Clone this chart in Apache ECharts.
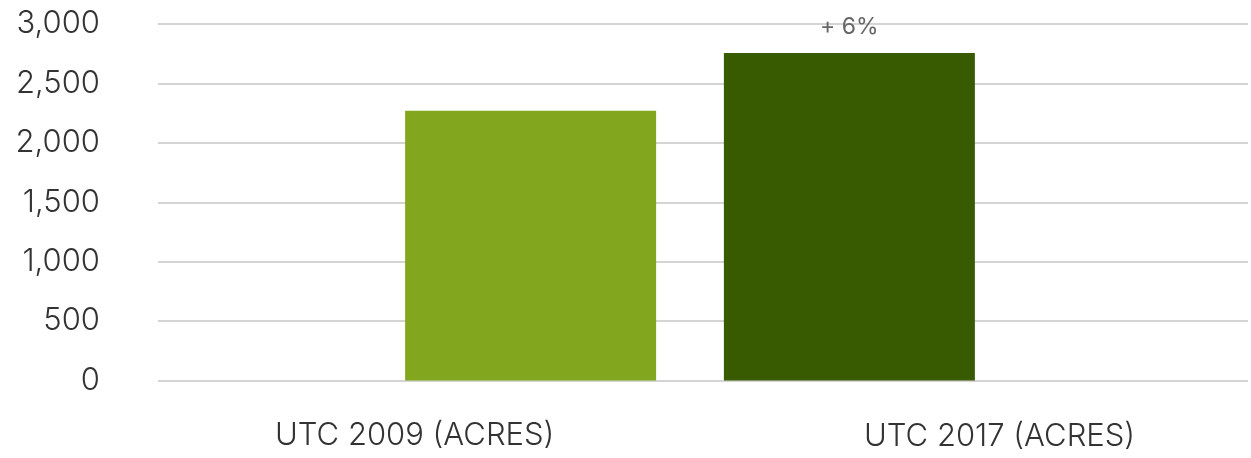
<!DOCTYPE html>
<html>
<head>
<meta charset="utf-8">
<script src="https://cdn.jsdelivr.net/npm/echarts@6/dist/echarts.min.js"></script>
<style>
html,body{margin:0;padding:0;background:#fff;}
#c{width:1251px;height:458px;}
</style>
</head>
<body>
<div id="c"></div>
<script>
const categories = [''];
const seriesNames = ['UTC 2009 (ACRES)', 'UTC 2017 (ACRES)'];
const values2009 = [2270];
const values2017 = [2757];
const changeLabel = '+ 6%';
const yTicks = [0, 500, 1000, 1500, 2000, 2500, 3000];

const FONT = 'Inter, "Open Sans", sans-serif';
const yMin = yTicks[0], yMax = yTicks[yTicks.length - 1], yStep = yTicks[1] - yTicks[0];
const chart = echarts.init(document.getElementById('c'));
chart.setOption({
  animation: false,
  backgroundColor: '#fff',
  grid: [
    { left: 158, right: 29, top: 24, bottom: 77.5 },
    { left: 158, right: 3, top: 24, bottom: 77.5 }
  ],
  legend: [
    { data: [seriesNames[0]], left: 270, top: 420, padding: 0, itemWidth: 0, itemHeight: 0, icon: 'rect', selectedMode: false,
      textStyle: { fontFamily: FONT, fontWeight: 300, fontSize: 31, color: '#333' } },
    { data: [seriesNames[1]], left: 859, top: 421, padding: 0, itemWidth: 0, itemHeight: 0, icon: 'rect', selectedMode: false,
      textStyle: { fontFamily: FONT, fontWeight: 300, fontSize: 31, color: '#333' } }
  ],
  xAxis: [
    { gridIndex: 0, type: 'category', data: categories,
      axisLine: { show: false }, axisTick: { show: false }, axisLabel: { show: false } },
    { gridIndex: 1, type: 'category', data: categories, show: false }
  ],
  yAxis: [
    { gridIndex: 0, type: 'value', min: yMin, max: yMax, interval: yStep,
      axisLine: { show: false }, axisTick: { show: false }, splitLine: { show: false },
      axisLabel: {
        margin: 58, fontFamily: FONT, fontWeight: 300, fontSize: 31, color: '#333',
        formatter: v => v.toLocaleString('en-US')
      } },
    { gridIndex: 1, type: 'value', min: yMin, max: yMax, interval: yStep, z: 0,
      axisLine: { show: false }, axisTick: { show: false }, axisLabel: { show: false },
      splitLine: { lineStyle: { color: '#d4d4d4', width: 2 } } }
  ],
  series: [
    { name: seriesNames[0], type: 'bar', data: values2009, barWidth: 251, barGap: '27%',
      xAxisIndex: 0, yAxisIndex: 0, z: 3,
      itemStyle: { color: '#83a61f' } },
    { name: seriesNames[1], type: 'bar', data: values2017, barWidth: 251,
      xAxisIndex: 0, yAxisIndex: 0, z: 3,
      itemStyle: { color: '#385b01' },
      label: { show: true, position: 'top', distance: 14, formatter: changeLabel,
        fontFamily: FONT, fontSize: 23, color: '#666' } },
    { name: 'grid', type: 'bar', data: [], xAxisIndex: 1, yAxisIndex: 1, silent: true }
  ]
});
</script>
</body>
</html>
